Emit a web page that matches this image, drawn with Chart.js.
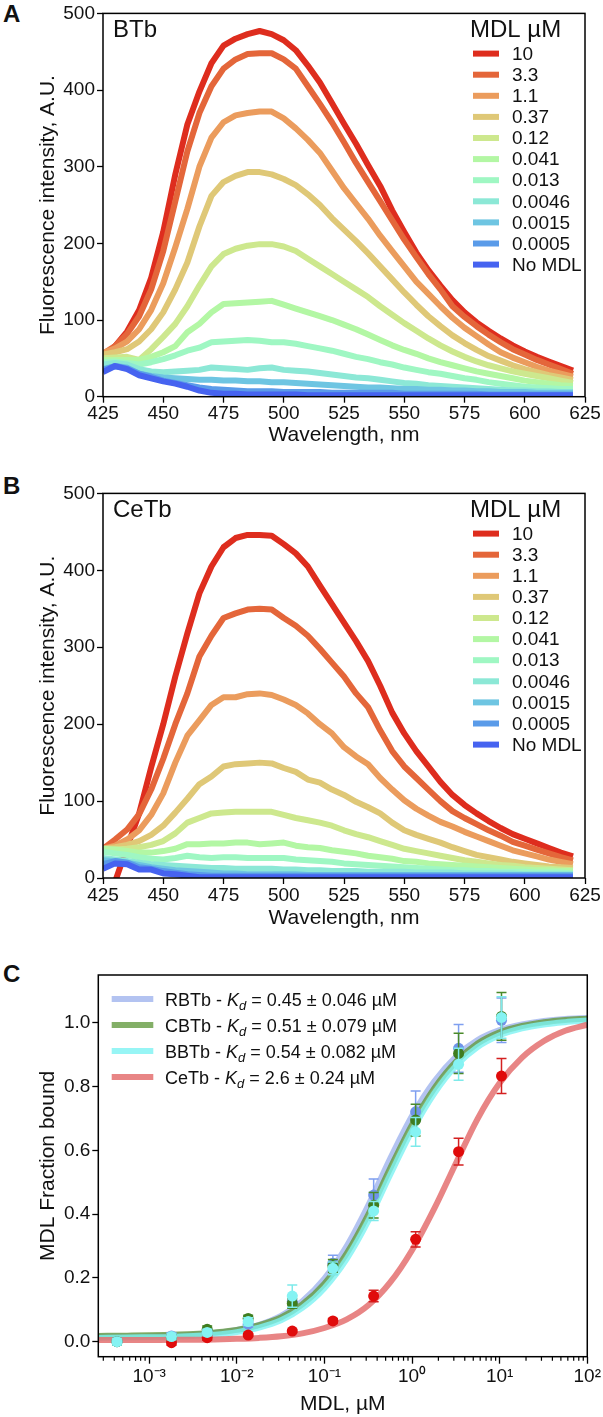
<!DOCTYPE html>
<html>
<head>
<meta charset="utf-8">
<script src="https://cdn.jsdelivr.net/npm/chart.js@4.4.0/dist/chart.umd.min.js"></script>
<style>
body { margin: 0; background: #fff; width: 603px; height: 1417px; position: relative; overflow: hidden; }
canvas { position: absolute; left: 0; }
.panel { position: absolute; left: 3px; font: bold 24px "Liberation Sans", Arial, sans-serif; color: #111; }
</style>
</head>
<body>
<div class="panel" style="top:0px">A</div>
<div class="panel" style="top:472px">B</div>
<div class="panel" style="top:960px">C</div>
<canvas id="chartA" width="603" height="450" style="top:0px"></canvas>
<canvas id="chartB" width="603" height="460" style="top:480px"></canvas>
<canvas id="chartC" width="603" height="457" style="top:960px"></canvas>
<script>
// ---- spectra (panels A and B) ----
const wavelengths = [425,430,435,440,445,450,455,460,465,470,
                     475,480,485,490,495,500,505,510,515,520,
                     525,530,535,540,545,550,555,560,565,570,
                     575,580,585,590,595,600,605,610,615,620];
const concLabels = ['10','3.3','1.1','0.37','0.12','0.041','0.013','0.0046','0.0015','0.0005','No MDL'];
const lineColors = ['#de2d1e','#e4663a','#eb9c5d','#dfc877','#cde88e','#b3f7a4','#9ff7c3','#8ce8d6','#6ec5e2','#5a9be9','#4663f0'];
const wlTicks = [425,450,475,500,525,550,575,600,625];
const intensityTicks = [0,100,200,300,400,500];

// BTb
const btb10 = [50,66,85,113,155,215,290,355,398,435, 458,467,473,477,473,465,452,432,410,383, 356,330,302,275,243,215,188,165,145,126, 110,97,86,76,67,59,52,46,40,34];
const btb3p3 = [56,66,82,105,140,190,255,320,370,405, 428,440,447,448,448,440,428,405,382,358, 332,305,280,255,230,205,182,160,140,118, 104,92,81,71,62,55,48,42,36,30];
const btb1p1 = [57,63,72,88,113,148,195,245,300,338, 358,367,370,372,372,363,350,335,318,295, 272,252,232,210,190,170,150,134,118,103, 90,79,68,58,51,45,39,34,30,26];
const btb0p37 = [55,58,62,72,88,110,140,175,222,262, 280,288,293,293,290,284,276,264,250,233, 218,203,187,170,153,136,120,105,92,80, 70,61,53,47,41,36,32,28,25,22];
const btb0p12 = [50,51,52,48,62,78,95,118,145,170, 186,193,197,199,199,196,190,180,170,160, 150,140,130,118,107,96,86,76,67,59, 52,46,41,37,33,30,27,24,21,18];
const btb0p041 = [48,48,48,48,52,58,66,84,95,110, 121,122,123,124,125,120,115,110,105,100, 94,88,81,74,67,61,56,50,45,41, 37,33,30,27,24,21,19,17,15,14];
const btb0p013 = [45,46,44,42,45,49,54,60,64,71, 72,73,74,73,71,71,69,66,63,60, 56,52,49,45,42,38,35,32,30,27, 24,22,19,17,15,13,12,11,10,10];
const btb0p0046 = [42,44,42,36,33,32,33,34,35,38, 37,36,35,37,38,35,34,33,31,29, 27,25,24,22,20,18,17,15,14,13, 12,11,10,9,8,8,7,7,6,6];
const btb0p0015 = [36,40,38,30,27,25,24,23,22,22, 21,21,20,20,19,19,18,17,16,15, 14,13,12,12,11,10,10,9,9,8, 8,7,7,6,6,6,5,5,5,5];
const btb0p0005 = [35,40,37,30,26,21,18,15,12,10, 9,8,7,7,7,6,6,6,6,5, 5,5,5,5,5,4,4,4,4,4, 4,4,3,3,3,3,3,3,3,3];
const btbNone = [32,40,36,28,24,20,17,13,8,5, 4,4,3,3,3,3,3,2,2,2, 2,2,2,2,2,2,2,2,2,2, 2,2,2,2,2,2,2,2,2,2];

// CeTb
const cetb10 = [-40,-5,40,84,144,200,262,318,370,405, 430,442,446,446,445,434,422,405,380,356, 332,308,282,250,215,188,165,145,125,108, 95,84,74,65,57,51,45,39,33,28];
const cetb3p3 = [38,50,63,83,115,155,200,240,288,315, 338,344,349,350,349,338,328,315,298,280, 262,240,222,192,165,145,130,115,100,87, 78,70,62,55,47,42,37,32,27,23];
const cetb1p1 = [38,42,50,62,82,110,150,185,205,225, 235,235,239,240,238,232,225,214,200,188, 170,158,148,130,115,101,90,81,73,67, 60,54,48,42,36,32,28,24,21,18];
const cetb0p37 = [38,40,43,48,56,68,85,103,122,132, 145,148,149,150,149,143,138,128,124,115, 108,99,92,84,72,62,56,51,46,40, 35,30,27,24,21,19,17,15,14,13];
const cetb0p12 = [36,37,38,40,43,48,58,72,78,84, 85,86,86,86,86,82,78,75,72,68, 62,57,53,48,43,38,35,32,29,26, 23,21,19,17,16,14,13,12,11,10];
const cetb0p041 = [38,37,35,33,33,35,38,44,44,45, 45,46,46,44,45,46,42,40,39,36, 34,32,29,27,25,22,21,19,18,17, 16,15,14,13,12,11,10,10,9,9];
const cetb0p013 = [34,32,30,27,25,24,26,29,27,26, 27,27,26,26,26,26,24,23,22,21, 19,18,17,16,15,14,13,12,11,10, 10,9,9,8,8,8,7,7,7,6];
const cetb0p0046 = [26,24,22,20,18,17,16,15,14,13, 13,12,12,12,12,11,11,10,10,9, 9,9,8,8,8,8,7,7,7,7, 6,6,6,6,6,5,5,5,5,5];
const cetb0p0015 = [23,22,20,17,14,12,10,9,8,7, 6,6,5,5,5,5,5,4,4,4, 4,4,4,4,4,4,4,4,4,4, 4,4,4,4,4,4,4,4,4,4];
const cetb0p0005 = [18,22,20,14,12,9,7,5,4,3, 3,3,3,3,3,3,3,3,3,3, 3,3,3,3,3,3,3,3,3,3, 3,3,3,3,3,3,3,3,3,3];
const cetbNone = [12,19,18,11,11,6,5,3,1,1, 1,1,1,1,1,1,1,1,1,1, 1,1,1,1,1,1,1,1,1,1, 1,1,1,1,1,1,1,1,1,1];

// ---- binding curves (panel C) ----
const proteins = ['RBTb','CBTb','BBTb','CeTb'];
const kdValues = ['0.45','0.51','0.54','2.6'];
const kdErrors = ['0.046','0.079','0.082','0.24'];
const mdlConc = [0.00043,0.0018,0.0046,0.0135,0.043,0.125,0.365,1.1,3.4,10.5];
const rbtbBound = [0.0,0.018,0.03,0.055,0.125,0.246,0.46,0.721,0.92,1.008];
const rbtbErr = [0.01,0.01,0.01,0.01,0.02,0.025,0.05,0.065,0.075,0.07];
const cbtbBound = [0.0,0.013,0.039,0.073,0.12,0.238,0.428,0.695,0.904,1.02];
const cbtbErr = [0.01,0.01,0.01,0.01,0.015,0.02,0.04,0.05,0.063,0.075];
const bbtbBound = [0.0,0.016,0.029,0.063,0.143,0.23,0.41,0.658,0.87,1.017];
const bbtbErr = [0.01,0.01,0.01,0.012,0.035,0.02,0.03,0.045,0.05,0.065];
const cetbBound = [null,-0.003,0.0125,0.021,0.0335,0.065,0.143,0.321,0.596,0.833];
const cetbErr = [0,0.008,0.008,0.005,0.005,0.008,0.018,0.024,0.042,0.055];

const fitConc = [0.00026,0.00056,0.001,0.0018,0.0032,0.0056,0.01,0.018,0.032,0.056,0.1,0.18,0.32,0.56,1,1.8,3.2,5.6,10,18,32,56,100];
const rbtbFit = [0.016,0.016,0.017,0.019,0.022,0.027,0.037,0.053,0.081,0.127,0.198,0.300,0.430,0.573,0.708,0.817,0.895,0.946,0.977,0.995,1.006,1.012,1.015];
const cbtbFit = [0.018,0.019,0.020,0.022,0.024,0.029,0.037,0.052,0.076,0.117,0.182,0.277,0.401,0.542,0.680,0.795,0.879,0.935,0.970,0.990,1.002,1.009,1.013];
const bbtbFit = [0.012,0.013,0.014,0.015,0.018,0.022,0.030,0.044,0.067,0.106,0.168,0.260,0.381,0.522,0.661,0.779,0.866,0.924,0.961,0.983,0.995,1.002,1.007];
const cetbFit = [0.005,0.005,0.005,0.006,0.006,0.007,0.009,0.012,0.017,0.026,0.043,0.070,0.115,0.185,0.287,0.418,0.562,0.699,0.811,0.891,0.943,0.975,0.994];

const logTicks = [0.001,0.01,0.1,1,10,100];
const logTickLabels = ['10⁻³','10⁻²','10⁻¹','10⁰','10¹','10²'];
const boundTicks = [0,0.2,0.4,0.6,0.8,1.0];

const fitColors = ['rgba(160,180,238,0.8)','rgba(100,155,65,0.8)','rgba(125,242,242,0.8)','rgba(228,112,112,0.85)'];
const markColors = ['#7094ea','#3f7d1f','#85f3f3','#e00b0b'];
const errColors = ['#7f9ff0','#4a8a2a','#7eeaea','#d42020'];

const FONT = '"Liberation Sans", Arial, sans-serif';
Chart.defaults.font.family = FONT;
Chart.defaults.color = '#111';

function framePlugin() {
  return {
    id: 'frame',
    afterDraw(chart) {
      const {ctx, chartArea: a} = chart;
      ctx.save();
      ctx.lineWidth = 1.5;
      ctx.strokeStyle = '#000';
      ctx.strokeRect(a.left, a.top, a.right - a.left, a.bottom - a.top);
      ctx.restore();
    }
  };
}

function spectrumLegend(tag) {
  return {
    id: 'specLegend',
    afterDraw(chart) {
      const {ctx, chartArea: a} = chart;
      ctx.save();
      ctx.fillStyle = '#111';
      ctx.font = '24px ' + FONT;
      ctx.textBaseline = 'alphabetic';
      ctx.fillText(tag, a.left + 10, a.top + 23.5);
      ctx.fillText('MDL µM', a.left + 367, a.top + 23.5);
      ctx.font = '19px ' + FONT;
      ctx.textBaseline = 'middle';
      chart.data.datasets.forEach((ds, i) => {
        const cy = a.top + 40.2 + 21.1 * i;
        ctx.fillStyle = ds.borderColor;
        ctx.fillRect(a.left + 370, cy - 3, 26, 6);
        ctx.fillStyle = '#111';
        ctx.fillText(ds.label, a.left + 409, cy + 1);
      });
      ctx.restore();
    }
  };
}

function makeSpectrum(id, series, tag, area) {
  const datasets = series.map((vals, i) => ({
    label: concLabels[i],
    data: wavelengths.map((w, j) => ({x: w, y: vals[j]})),
    borderColor: lineColors[i],
    borderWidth: 6,
    borderJoinStyle: 'round',
    pointRadius: 0,
    fill: false,
    clip: 0,
    order: series.length - i
  }));
  return new Chart(document.getElementById(id), {
    type: 'line',
    data: {datasets},
    options: {
      responsive: false,
      animation: false,
      devicePixelRatio: 1,
      layout: {padding: {left: 0, top: area.top, right: 603 - area.right, bottom: 0}},
      plugins: {legend: {display: false}, tooltip: {enabled: false}},
      scales: {
        x: {
          type: 'linear', min: 425, max: 625,
          afterBuildTicks: s => { s.ticks = wlTicks.map(v => ({value: v})); },
          afterFit: s => { s.height = area.height - area.bottom; },
          ticks: {font: {size: 19}, color: '#111', padding: 0, maxRotation: 0, autoSkip: false},
          grid: {drawOnChartArea: false, tickLength: 6, tickColor: '#000', tickWidth: 1.3},
          border: {display: false},
          title: {display: true, text: 'Wavelength, nm', font: {size: 21}, color: '#111',
                  padding: {top: 0, bottom: area.xTitlePad}}
        },
        y: {
          min: 0, max: 500,
          afterBuildTicks: s => { s.ticks = intensityTicks.map(v => ({value: v})); },
          afterFit: s => { s.width = area.left; },
          ticks: {font: {size: 19}, color: '#111', padding: 2},
          grid: {drawOnChartArea: false, tickLength: 6, tickColor: '#000', tickWidth: 1.3},
          border: {display: false},
          title: {display: true, text: 'Fluorescence intensity, A.U.', font: {size: 21}, color: '#111',
                  padding: {top: 36, bottom: 0}}
        }
      }
    },
    plugins: [framePlugin(), spectrumLegend(tag)]
  });
}

makeSpectrum('chartA',
  [btb10, btb3p3, btb1p1, btb0p37, btb0p12, btb0p041, btb0p013, btb0p0046, btb0p0015, btb0p0005, btbNone],
  'BTb', {left: 103, right: 585, top: 11.5, bottom: 396.7, height: 450, xTitlePad: 2.4});

makeSpectrum('chartB',
  [cetb10, cetb3p3, cetb1p1, cetb0p37, cetb0p12, cetb0p041, cetb0p013, cetb0p0046, cetb0p0015, cetb0p0005, cetbNone],
  'CeTb', {left: 103, right: 585, top: 13.3, bottom: 398, height: 460, xTitlePad: 8.9});

// ---- panel C ----
const errorBars = {
  id: 'errorBars',
  beforeDatasetDraw(chart, args) {
    const ds = chart.data.datasets[args.index];
    if (!ds.errors) return;
    const {ctx} = chart;
    const xs = chart.scales.x, ys = chart.scales.y;
    ctx.save();
    ctx.strokeStyle = ds.errorColor;
    ctx.lineWidth = 1.5;
    ctx.beginPath();
    ds.data.forEach((p, j) => {
      const e = ds.errors[j];
      if (p.y == null || !e) return;
      const px = xs.getPixelForValue(p.x);
      const y1 = ys.getPixelForValue(p.y - e), y2 = ys.getPixelForValue(p.y + e);
      ctx.moveTo(px, y1); ctx.lineTo(px, y2);
      ctx.moveTo(px - 5, y1); ctx.lineTo(px + 5, y1);
      ctx.moveTo(px - 5, y2); ctx.lineTo(px + 5, y2);
    });
    ctx.stroke();
    ctx.restore();
  }
};

const bindingOverlay = {
  id: 'bindingOverlay',
  afterDraw(chart) {
    const {ctx, chartArea: a} = chart;
    const xs = chart.scales.x;
    ctx.save();
    // minor ticks of the log axis
    ctx.strokeStyle = '#000';
    ctx.lineWidth = 1.2;
    ctx.beginPath();
    for (let k = -4; k <= 1; k++) {
      for (let m = 2; m <= 9; m++) {
        const v = m * Math.pow(10, k);
        if (v < xs.min || v > xs.max) continue;
        const px = xs.getPixelForValue(v);
        ctx.moveTo(px, a.bottom); ctx.lineTo(px, a.bottom + 4);
      }
    }
    ctx.stroke();
    // legend
    proteins.forEach((name, i) => {
      const cy = a.top + 24 + 26 * i;
      ctx.strokeStyle = fitColors[i];
      ctx.lineWidth = 6;
      ctx.beginPath();
      ctx.moveTo(a.left + 13.4, cy); ctx.lineTo(a.left + 55, cy);
      ctx.stroke();
      const parts = [
        {t: name + ' - ', f: '18px ' + FONT, dy: 0},
        {t: 'K', f: 'italic 18px ' + FONT, dy: 0},
        {t: 'd', f: 'italic 13px ' + FONT, dy: 4},
        {t: ' = ' + kdValues[i] + ' ± ' + kdErrors[i] + ' µM', f: '18px ' + FONT, dy: 0}
      ];
      let x = a.left + 66.7;
      ctx.fillStyle = '#111';
      ctx.textBaseline = 'alphabetic';
      parts.forEach(p => {
        ctx.font = p.f;
        ctx.fillText(p.t, x, cy + 6.5 + p.dy);
        x += ctx.measureText(p.t).width;
      });
    });
    ctx.restore();
  }
};

const fitSeries = [rbtbFit, cbtbFit, bbtbFit, cetbFit];
const boundSeries = [rbtbBound, cbtbBound, bbtbBound, cetbBound];
const errSeries = [rbtbErr, cbtbErr, bbtbErr, cetbErr];
const pointOrder = [5, 4, 1, 2];

const cDatasets = [];
fitSeries.forEach((vals, i) => {
  cDatasets.push({
    label: proteins[i] + ' fit',
    data: fitConc.map((x, j) => ({x, y: vals[j]})),
    showLine: true,
    borderColor: fitColors[i],
    borderWidth: 6,
    pointRadius: 0,
    cubicInterpolationMode: 'monotone',
    clip: 0,
    order: 9 - i
  });
});
boundSeries.forEach((vals, i) => {
  cDatasets.push({
    label: proteins[i],
    data: mdlConc.map((x, j) => ({x, y: vals[j]})),
    errors: errSeries[i],
    errorColor: errColors[i],
    showLine: false,
    backgroundColor: markColors[i],
    borderColor: markColors[i],
    borderWidth: 0,
    pointRadius: 5.5,
    order: pointOrder[i]
  });
});

const areaC = {left: 98.3, right: 589.5, top: 15, bottom: 396.7, height: 457};
new Chart(document.getElementById('chartC'), {
  type: 'scatter',
  data: {datasets: cDatasets},
  options: {
    responsive: false,
    animation: false,
    devicePixelRatio: 1,
    layout: {padding: {left: 0, top: areaC.top, right: 603 - areaC.right, bottom: 0}},
    plugins: {legend: {display: false}, tooltip: {enabled: false}},
    scales: {
      x: {
        type: 'logarithmic', min: 0.000263, max: 100,
        afterBuildTicks: s => { s.ticks = logTicks.map(v => ({value: v})); },
        afterFit: s => { s.height = areaC.height - areaC.bottom; },
        ticks: {font: {size: 19}, color: '#111', padding: 2, maxRotation: 0, autoSkip: false,
                callback: (v, i) => logTickLabels[i]},
        grid: {drawOnChartArea: false, tickLength: 7, tickColor: '#000', tickWidth: 1.3},
        border: {display: false},
        title: {display: true, text: 'MDL, µM', font: {size: 21}, color: '#111', padding: {top: 0, bottom: 0}}
      },
      y: {
        min: -0.047, max: 1.15,
        afterBuildTicks: s => { s.ticks = boundTicks.map(v => ({value: v})); },
        afterFit: s => { s.width = areaC.left; },
        ticks: {font: {size: 19}, color: '#111', padding: 2, callback: v => v.toFixed(1)},
        grid: {drawOnChartArea: false, tickLength: 6, tickColor: '#000', tickWidth: 1.3},
        border: {display: false},
        title: {display: true, text: 'MDL Fraction bound', font: {size: 21}, color: '#111',
                padding: {top: 36, bottom: 0}}
      }
    }
  },
  plugins: [errorBars, framePlugin(), bindingOverlay]
});
</script>
</body>
</html>
